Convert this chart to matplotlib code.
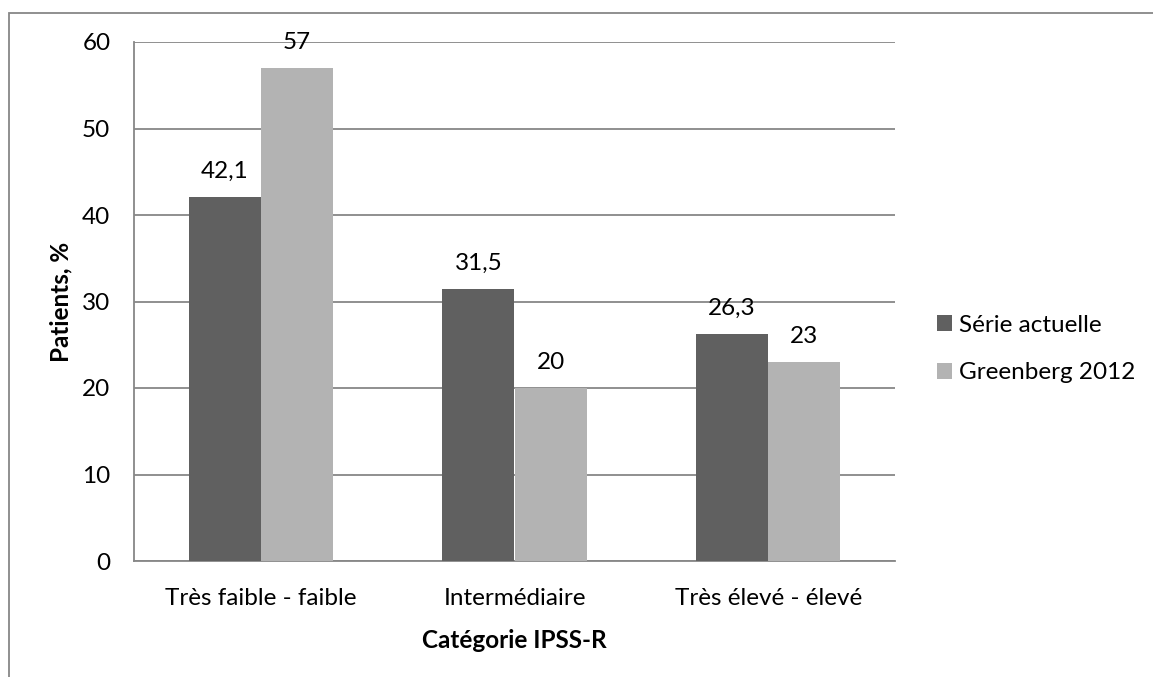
import numpy as np
import matplotlib
matplotlib.use("Agg")
import matplotlib.pyplot as plt
from matplotlib.patches import Rectangle

plt.rcParams['font.family'] = ['Lato', 'DejaVu Sans']

### data
categories = ["Très faible - faible", "Intermédiaire", "Très élevé - élevé"]
serie_actuelle = [42.1, 31.5, 26.3]
greenberg_2012 = [57, 20, 23]
series_names = ["Série actuelle", "Greenberg 2012"]
y_ticks = [0, 10, 20, 30, 40, 50, 60]

dark = "#606060"
light = "#b3b3b3"
grid_gray = "#878787"
fs = 17.5

def fmt(v):
    # french decimal comma
    s = ("%g" % v)
    return s.replace(".", ",")

fig = plt.figure(figsize=(11.53, 6.77), dpi=100)
ax = fig.add_axes([134/1153, 1-561/677, (895-134)/1153, (561-42)/677])

x = np.arange(len(categories))
w = 0.284
b1 = ax.bar(x - w/2, serie_actuelle, w, color=dark, label=series_names[0], zorder=3)
b2 = ax.bar(x + w/2, greenberg_2012, w, color=light, label=series_names[1], zorder=3)

for bars, vals in ((b1, serie_actuelle), (b2, greenberg_2012)):
    for r, v in zip(bars, vals):
        ax.annotate(fmt(v), (r.get_x() + r.get_width()/2, v), xytext=(0, 15),
                    textcoords="offset pixels", ha="center", va="bottom",
                    fontsize=fs, zorder=4)

ax.set_xlim(-0.5, 2.5)
ax.set_ylim(0, 60)
ax.set_yticks(y_ticks)
ax.set_xticks(x)
ax.set_xticklabels(categories, fontsize=fs)
ax.tick_params(axis='y', labelsize=fs, length=0, pad=17)
ax.tick_params(axis='x', length=0, pad=19.5)
ax.yaxis.grid(True, color=grid_gray, lw=1.3, zorder=0)
ax.set_axisbelow(True)
for s in ("top", "right"):
    ax.spines[s].set_visible(False)
for s in ("left", "bottom"):
    ax.spines[s].set_color(grid_gray)
    ax.spines[s].set_linewidth(1.3)

ax.set_ylabel("Patients, %", fontsize=fs, fontweight="bold", labelpad=7)
ax.set_xlabel("Catégorie IPSS-R", fontsize=fs, fontweight="bold", labelpad=14)

leg = fig.legend(handles=[b1, b2], loc="center left",
                 bbox_to_anchor=(937/1153, 1-349/677), frameon=False,
                 fontsize=fs, handlelength=0.62, handleheight=0.62,
                 handletextpad=0.3, labelspacing=1.1,
                 borderaxespad=0, borderpad=0)

# outer chart frame
fig.patches.append(Rectangle((9/1153, -0.1), 2, 1-13/677+0.1, fill=False,
                             edgecolor=grid_gray, lw=1.3,
                             transform=fig.transFigure, figure=fig))

fig.savefig("out.png", dpi=100)
